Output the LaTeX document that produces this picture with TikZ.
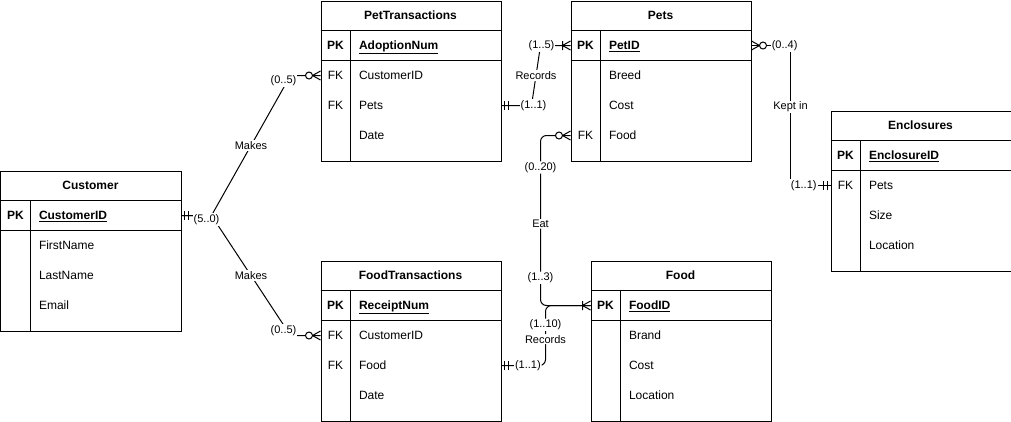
\documentclass[tikz,border=0pt]{standalone}
\usepackage{fontspec}
\setmainfont{Liberation Sans}

% one entity: name, left, top, title, primary key, rows key/field
\newcommand{\ertable}[6]{%
  \begin{scope}[shift={(#2,#3)}]
    \node[entity] (#1) at (0,0) {};
    \draw (0,30) -- (180,30) (0,60) -- (180,60) (30,30) -- (30,160);
    \node[bold] (#1-name) at (90,15) {#4};
    \node[bold] (#1-pk) at (15,45) {PK};
    \node[field, bold] (#1-id) at (38,45) {\underline{#5}};
    \foreach \k/\f [count=\i] in {#6} {
      \ifx\k\empty\else\node[txt] (#1-k\i) at (15,45+30*\i) {\k};\fi
      \node[field] (#1-\i) at (38,45+30*\i) {\f};
    }
  \end{scope}}

\begin{document}
\begin{tikzpicture}[x=1pt, y=-1pt, line width=1pt,
    txt/.style={font=\fontsize{12}{14}\selectfont, inner sep=0pt, text height=9pt, text depth=1pt},
    bold/.style={txt, font=\fontsize{12}{14}\selectfont\bfseries},
    field/.style={txt, anchor=west},
    entity/.style={draw, anchor=north west, minimum width=180pt, minimum height=160pt, inner sep=0pt},
    lab/.style={font=\fontsize{11}{13}\selectfont, fill=white, inner sep=1pt},
    rel/.style={draw},
    mandone/.pic={\draw (3,-4.5) -- (3,4.5) (7,-4.5) -- (7,4.5);},
    zeromany/.pic={\draw (0,-4.5) -- (8,0) -- (0,4.5); \draw[fill=white] (11.5,0) circle[radius=3.5pt];},
    onemany/.pic={\draw (0,-4.5) -- (8,0) -- (0,4.5) (8,-4.5) -- (8,4.5);}]
  \useasboundingbox (-0.5,-0.5) rectangle (1010.5,420.5);

  \ertable{cust}{0}{170}{Customer}{CustomerID}{/FirstName, /LastName, /Email}
  \ertable{pett}{320}{0}{PetTransactions}{AdoptionNum}{FK/CustomerID, FK/Pets, /Date}
  \ertable{pets}{570}{0}{Pets}{PetID}{/Breed, /Cost, FK/Food}
  \ertable{encl}{830}{110}{Enclosures}{EnclosureID}{FK/Pets, /Size, /Location}
  \ertable{foodt}{320}{260}{FoodTransactions}{ReceiptNum}{FK/CustomerID, FK/Food, /Date}
  \ertable{food}{590}{260}{Food}{FoodID}{/Brand, /Cost, /Location}

  % ends of the relations
  \coordinate (cust-r) at (cust.east |- cust-id);
  \coordinate (pett-l) at (pett.west |- pett-1);
  \coordinate (pett-r) at (pett.east |- pett-2);
  \coordinate (foodt-l) at (foodt.west |- foodt-1);
  \coordinate (foodt-r) at (foodt.east |- foodt-2);
  \coordinate (pets-l) at (pets.west |- pets-id);
  \coordinate (pets-r) at (pets.east |- pets-id);
  \coordinate (pets-fk) at (pets.west |- pets-3);
  \coordinate (encl-l) at (encl.west |- encl-1);
  \coordinate (food-l) at (food.west |- food-id);

  \draw[rel] (cust-r) -- ++(30,0) -- ([xshift=-30pt]pett-l) node[lab, midway] {Makes}
    node[lab, pos=1, xshift=-7, yshift=-5] {(0..5)} -- (pett-l);
  \draw[rel] (cust-r) -- ++(30,0) node[lab, xshift=-5, yshift=-4] {(5..0)}
    -- ([xshift=-30pt]foodt-l) node[lab, midway] {Makes}
    node[lab, pos=1, xshift=-7, yshift=5] {(0..5)} -- (foodt-l);
  \draw[rel] (pett-r) -- ++(30,0) node[lab, xshift=2] {(1..1)}
    -- ([xshift=-30pt]pets-l) node[lab, midway] {Records}
    node[lab, pos=1, xshift=1] {(1..5)} -- (pets-l);
  \draw[rel, rounded corners=6pt] (pets-fk) -| ([xshift=-50pt]food-l)
    node[lab, pos=0.594] {(0..20)} node[lab, pos=0.76] {Eat}
    node[lab, pos=0.918] {(1..3)} -- (food-l);
  \draw[rel, rounded corners=6pt] (foodt-r) -| ([xshift=-45pt]food-l)
    node[lab, pos=0.3] {(1..1)} node[lab, pos=0.72] {Records}
    node[lab, pos=0.84] {(1..10)} -- (food-l);
  \draw[rel] (pets-r) -| ([xshift=-40pt]encl-l)
    node[lab, pos=0.425] {(0..4)} node[lab, pos=0.72] {Kept in}
    -- (encl-l) node[lab, pos=0.33] {(1..1)};

  % markers
  \pic at (cust-r) {mandone};
  \pic[xscale=-1] at (pett-l) {zeromany};
  \pic[xscale=-1] at (foodt-l) {zeromany};
  \pic at (pett-r) {mandone};
  \pic at (foodt-r) {mandone};
  \pic[xscale=-1] at (pets-l) {onemany};
  \pic at (pets-r) {zeromany};
  \pic[xscale=-1] at (pets-fk) {zeromany};
  \pic[xscale=-1] at (encl-l) {mandone};
  \pic[xscale=-1] at (food-l) {onemany};
\end{tikzpicture}
\end{document}
